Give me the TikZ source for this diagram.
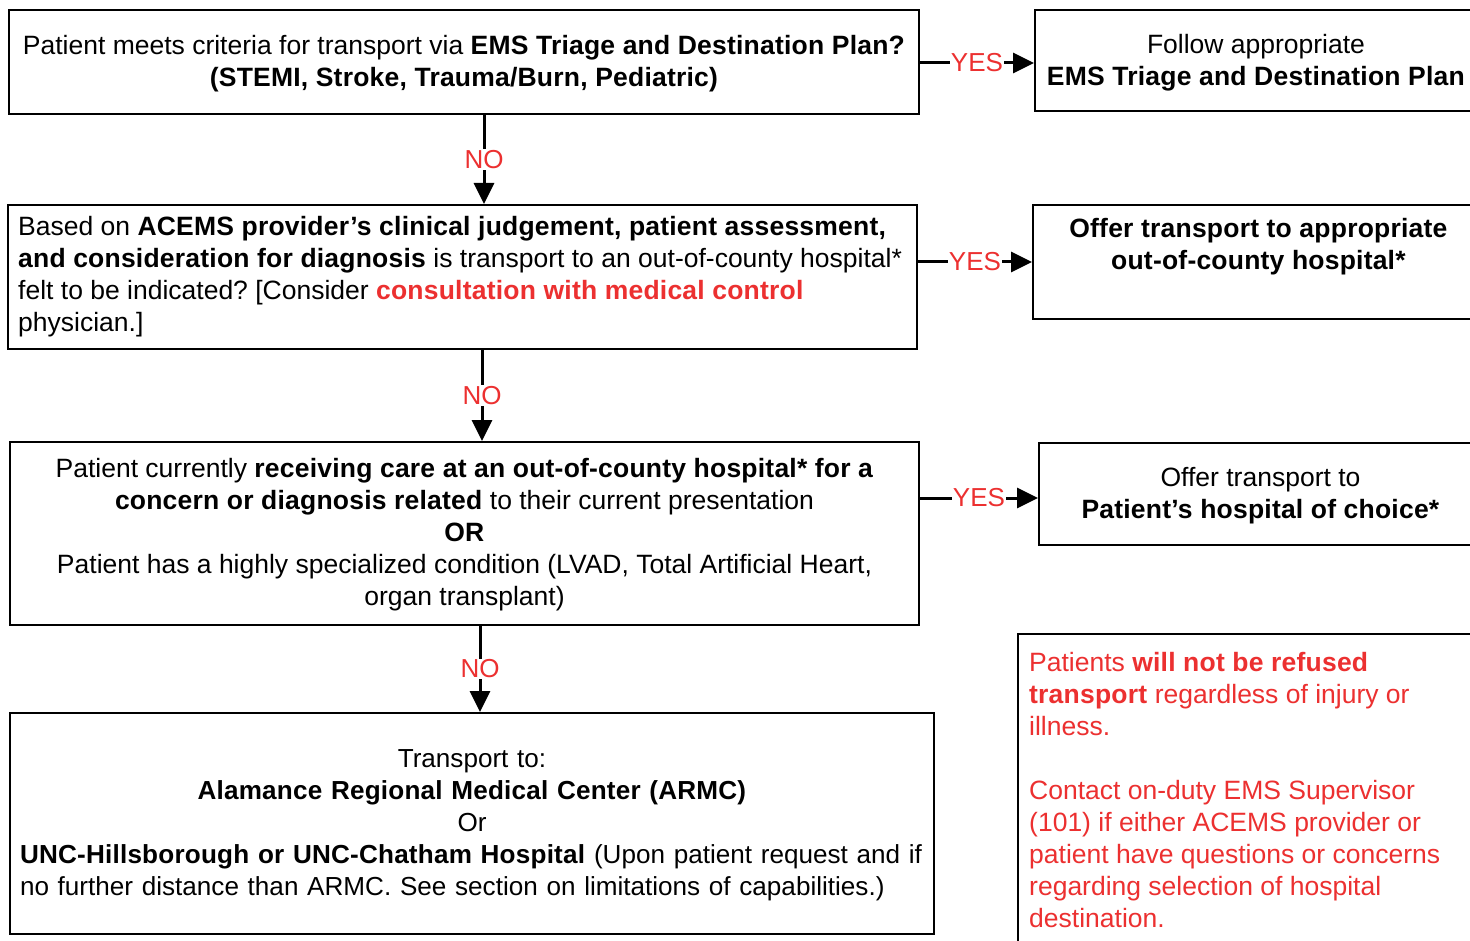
\documentclass[tikz,border=0pt]{standalone}
\usepackage{fontspec}
\setmainfont{Liberation Sans}[BoldFeatures={LetterSpace=0.8}]
\usetikzlibrary{arrows.meta}
\definecolor{alertred}{RGB}{236,48,48}
\frenchspacing
\begin{document}
\begin{tikzpicture}[x=1pt,y=-1pt,
  every node/.style={font=\fontsize{26.5}{32}\selectfont},
  box/.style={draw=black, line width=2pt, anchor=north west, inner sep=0pt},
  arr/.style={line width=3pt, -{Triangle[length=21pt,width=20pt]}},
  lbl/.style={fill=white, text=alertred, inner sep=1pt, font=\fontsize{26}{26}\selectfont}]
\clip (0,0) rectangle (1470,941);
\fill[white] (0,0) rectangle (1470,941);

% left column: decision boxes
\node[box, minimum width=910pt, minimum height=104pt] (q1) at (8,9) {};
\node[align=center, inner sep=0pt] (q1t) at ([yshift=-2pt]q1.center)
  {Patient meets criteria for transport via \textbf{EMS Triage and Destination Plan?}\\
   \textbf{(STEMI, Stroke, Trauma/Burn, Pediatric)}};
\node[box, minimum width=909pt, minimum height=144pt] (q2) at (7,204) {};
\node[anchor=north west, align=left, inner sep=0pt] (q2t) at ([xshift=11pt,yshift=-12pt]q2.north west)
  {Based on \textbf{ACEMS provider’s clinical judgement, patient assessment,}\\
   \textbf{and consideration for diagnosis} is transport to an out-of-county hospital*\\
   felt to be indicated? [Consider \textcolor{alertred}{\textbf{consultation with medical control}}\\
   physician.]};
\node[box, minimum width=909pt, minimum height=183pt] (q3) at (9,441) {};
\node[align=center, inner sep=0pt] (q3t) at ([yshift=-1pt]q3.center)
  {Patient currently \textbf{receiving care at an out-of-county hospital* for a}\\
   \textbf{concern or diagnosis related} to their current presentation\\
   \textbf{OR}\\
   Patient has a highly specialized condition (LVAD, Total Artificial Heart,\\
   organ transplant)};
\node[box, minimum width=924pt, minimum height=221pt] (q4) at (9,712) {};
\node[text width=904pt, align=center, inner sep=0pt, font=\fontsize{26.1}{32}\selectfont] (q4t) at ([yshift=-2pt]q4.center)
  {Transport to:\\
   \textbf{Alamance Regional Medical Center (ARMC)}\\
   Or\\
   \makebox[904pt][l]{\textbf{UNC-Hillsborough or UNC-Chatham Hospital} (Upon patient request and if}\\
   \makebox[904pt][l]{no further distance than ARMC. See section on limitations of capabilities.)}};

% right column: outcomes
\node[box, minimum width=442pt, minimum height=101pt] (r1) at (1034,9) {};
\node[align=center, inner sep=0pt] (r1t) at ([yshift=-2pt]r1.center)
  {Follow appropriate\\ \textbf{EMS Triage and Destination Plan}};
\node[box, minimum width=451pt, minimum height=114pt] (r2) at (1032,204) {};
\node[anchor=north, align=center, inner sep=0pt] (r2t) at ([yshift=-14pt]r2.north)
  {\textbf{Offer transport to appropriate}\\ \textbf{out-of-county hospital*}};
\node[box, minimum width=443pt, minimum height=102pt] (r3) at (1038,442) {};
\node[align=center, inner sep=0pt] (r3t) at ([yshift=-2pt]r3.center)
  {Offer transport to\\ \textbf{Patient’s hospital of choice*}};
\node[box, minimum width=480pt, minimum height=330pt] (note) at (1017,633) {};
\node[anchor=north west, align=left, inner sep=0pt, text=alertred] (notet) at ([xshift=12pt,yshift=-19pt]note.north west)
  {Patients \textbf{will not be refused}\\
   \textbf{transport} regardless of injury or\\
   illness.\\[32pt]
   Contact on-duty EMS Supervisor\\
   (101) if either ACEMS provider or\\
   patient have questions or concerns\\
   regarding selection of hospital\\
   destination.};

% connectors
\draw[arr] ([yshift=-1pt]q1.east) -- node[lbl] {YES} ([yshift=-1pt]q1.east -| r1.west);
\draw[arr] (r2.west -| q2.east) -- node[lbl] {YES} (r2.west);
\draw[arr] ([yshift=-4pt]r3.west -| q3.east) -- node[lbl] {YES} ([yshift=-4pt]r3.west);
\draw[arr] ([xshift=20pt]q1.south) -- node[lbl] {NO} ([xshift=21.5pt]q2.north);
\draw[arr] ([xshift=19.5pt]q2.south) -- node[lbl] {NO} ([xshift=17.5pt]q3.north);
\draw[arr] ([xshift=15.5pt]q3.south) -- node[lbl] {NO} ([xshift=8pt]q4.north);
\end{tikzpicture}
\end{document}
